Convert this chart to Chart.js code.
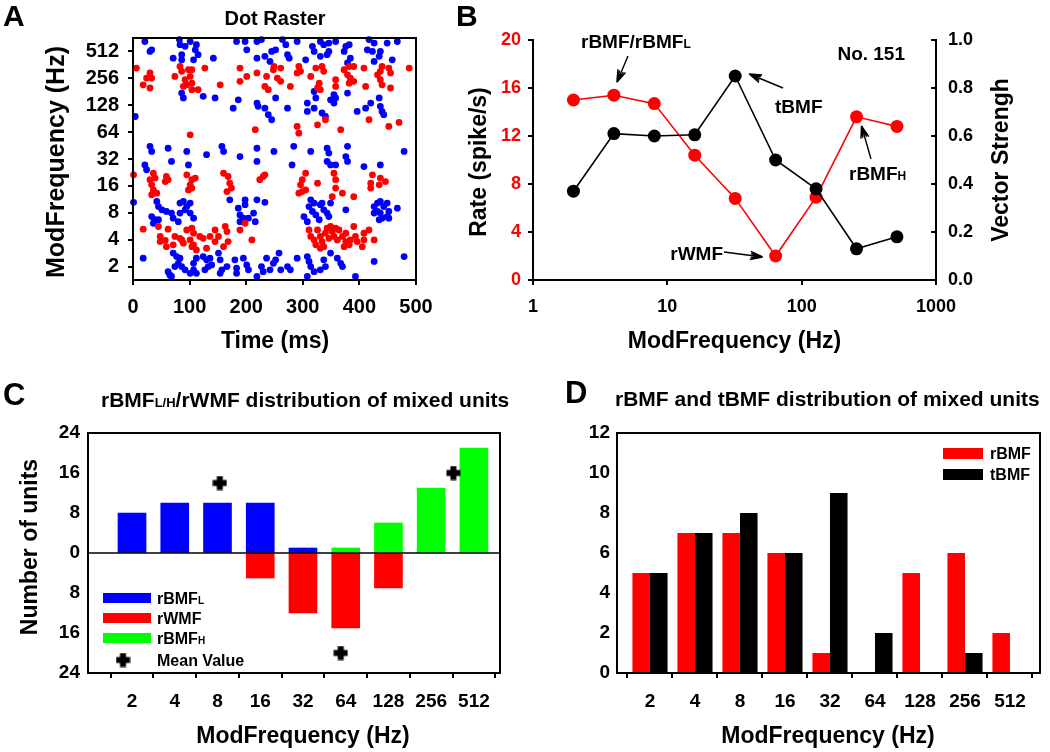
<!DOCTYPE html>
<html><head><meta charset="utf-8">
<script src="https://cdn.jsdelivr.net/npm/chart.js@4.4.1/dist/chart.umd.min.js"></script>
<style>
html,body{margin:0;padding:0;background:#fff;}
#wrap{position:relative;width:1050px;height:752px;overflow:hidden;background:#fff;}
canvas{position:absolute;left:0;top:0;}
</style></head><body>
<div id="wrap">
<canvas id="cA" width="1050" height="752"></canvas>
<canvas id="cB" width="1050" height="752"></canvas>
<canvas id="cC" width="1050" height="752"></canvas>
<canvas id="cD" width="1050" height="752"></canvas>
</div>
<script>
// ---------------- DATA ----------------
// Panel A: dot raster, [time (ms), modulation-frequency octave (log2 Hz)]
const rasterBlue = [
[21,9.37],[30,9.0],[33,9.06],[82,9.44],[83,9.25],[101,9.37],[92,9.19],[112,9.25],[110,9.06],[115,8.88],[107,8.69],[71,8.75],[86,8.69],[86,8.88],[142,8.75],[183,9.37],[198,9.37],[201,9.06],[219,9.37],[227,9.44],[219,8.75],[233,8.82],[245,9.0],[242,8.63],
[86,7.45],[89,7.27],[124,7.33],[145,7.27],[177,6.89],[186,7.2],[219,7.08],[221,6.96],[233,6.89],[239,6.65],[245,6.46],[4,6.58],
[30,5.47],[33,5.28],[62,5.4],[95,5.28],[68,4.91],[98,4.78],[130,5.16],[157,5.47],[160,5.28],[189,5.09],[219,5.4],[219,4.91],[21,4.78],[24,4.6],
[1,3.39],[42,3.42],[45,3.23],[51,3.11],[59,3.05],[68,2.99],[71,2.8],[83,3.36],[89,3.42],[95,3.23],[101,3.36],[92,3.11],[101,2.99],[107,2.8],[83,2.99],[80,2.67],[33,2.86],[39,2.74],[36,2.61],[45,2.74],[171,3.48],[198,3.48],[198,3.3],[186,3.17],[189,2.92],[195,2.8],[204,2.8],[216,2.67],[219,3.48],[233,3.39],[213,2.99],[189,2.67],
[18,1.31],[71,1.5],[77,1.37],[83,1.31],[80,1.12],[86,1.0],[74,1.0],[92,0.88],[107,1.12],[112,1.31],[101,0.75],[107,0.88],[124,1.37],[130,1.25],[136,1.31],[133,1.0],[127,0.88],[139,1.06],[151,1.5],[154,1.25],[157,0.88],[154,0.75],[166,1.0],[180,1.25],[183,0.94],[195,1.31],[201,1.06],[204,0.88],[183,0.75],[219,0.63],[227,1.0],[230,0.81],[236,1.31],[242,0.88],[248,1.12],[62,0.81],[65,0.69],[68,0.63],[112,0.75],
[252,9.06],[264,9.44],[270,9.25],[273,8.88],[276,8.75],[290,9.37],[305,8.69],[317,9.19],[320,9.0],[331,9.37],[337,9.25],[346,9.31],[346,9.0],[343,8.88],[331,8.82],[358,9.37],[376,9.19],[373,9.0],[382,9.25],[379,8.57],[384,8.75],[417,9.44],[426,9.31],[414,9.06],[423,9.0],[437,9.0],[435,8.82],[426,8.63],[449,9.31],[467,9.37],[458,8.69],
[252,7.27],[273,6.89],[308,7.08],[308,6.77],[320,7.51],[323,7.27],[320,6.89],[334,6.71],[340,6.58],[349,7.2],[355,7.39],[358,7.27],[355,7.08],[379,7.45],[396,6.77],[411,6.89],[420,7.08],[435,7.27],[437,6.96],[440,6.77],[443,6.65],
[249,5.28],[284,5.47],[281,4.78],[314,5.28],[343,5.4],[346,5.22],[343,4.91],[349,4.78],[358,4.78],[379,5.47],[376,5.09],[379,4.91],[408,4.72],[437,4.78],[479,5.28],
[314,3.48],[320,3.36],[311,3.23],[317,3.05],[323,2.92],[329,2.74],[331,3.3],[337,3.11],[334,3.36],[343,2.99],[349,3.36],[346,2.86],[302,2.86],[308,2.67],[376,3.11],[426,3.23],[432,3.36],[437,3.42],[443,3.23],[426,2.99],[432,3.05],[437,2.99],[449,3.36],[452,3.05],[449,2.86],[435,2.74],[440,2.8],[467,3.17],[452,2.8],
[258,1.5],[252,1.25],[261,0.88],[273,1.0],[278,0.88],[290,1.31],[308,1.37],[311,1.19],[314,1.0],[308,0.63],[320,0.81],[337,1.25],[340,1.0],[331,0.88],[349,1.5],[361,1.31],[367,1.12],[370,1.0],[393,0.63],[426,1.19],[479,1.37]
];
const rasterRed = [
[6,8.38],[30,8.2],[24,8.01],[33,8.01],[18,7.76],[30,7.64],[74,8.07],[83,8.44],[86,8.26],[98,8.32],[104,8.32],[101,8.07],[92,7.95],[95,7.76],[104,7.82],[104,7.58],[89,7.7],[115,7.58],[127,8.38],[154,7.76],[189,8.38],[201,8.07],[189,7.89],[219,8.2],[236,8.07],[233,7.7],[239,7.58],[248,8.32],[101,5.9],[216,6.09],
[1,4.41],[36,4.47],[39,4.29],[30,4.23],[33,4.04],[36,3.85],[33,3.67],[42,3.73],[59,4.35],[62,4.23],[57,4.16],[95,4.41],[104,4.23],[110,4.29],[101,4.04],[98,3.85],[104,3.92],[160,4.47],[168,4.35],[171,4.1],[174,3.92],[166,3.79],[224,4.23],[230,4.35],[233,4.41],
[18,2.39],[45,2.49],[62,2.39],[48,2.12],[48,1.93],[57,1.97],[59,1.74],[71,1.81],[74,2.12],[83,2.05],[86,1.99],[89,1.87],[95,2.36],[104,2.43],[107,2.24],[101,1.99],[104,1.74],[107,1.81],[112,1.62],[118,2.12],[124,2.05],[136,2.12],[130,1.68],[145,2.36],[151,2.12],[145,1.93],[163,2.49],[166,2.3],[168,1.93],[160,1.74],[189,2.36],[210,1.99],[198,2.61],
[249,8.44],[261,8.38],[255,8.01],[261,7.89],[278,7.7],[293,8.44],[296,8.26],[290,8.2],[314,8.07],[323,8.38],[334,8.44],[337,8.26],[329,7.82],[326,7.64],[331,7.58],[358,7.95],[358,7.7],[373,8.32],[382,8.44],[390,8.44],[379,8.13],[384,8.01],[390,7.89],[382,7.82],[408,8.38],[411,7.7],[432,8.13],[437,8.26],[440,8.44],[437,7.95],[440,7.76],[452,8.38],[455,8.2],[455,7.64],[488,8.38],
[326,6.27],[340,6.46],[290,6.21],[293,5.96],[367,6.09],[417,6.46],[452,6.21],[470,6.36],
[305,4.47],[299,4.23],[296,4.04],[299,3.79],[293,3.73],[305,3.85],[326,4.1],[355,4.47],[358,4.23],[358,3.92],[352,3.6],[370,3.73],[390,3.6],[423,4.41],[420,4.1],[420,3.92],[437,4.29],[446,4.16],[435,4.04],
[311,2.36],[314,2.12],[320,1.99],[323,1.81],[326,2.36],[331,2.12],[334,1.93],[337,1.74],[331,1.68],[340,2.24],[343,2.43],[349,2.49],[352,2.3],[355,2.12],[346,2.05],[358,2.43],[364,2.36],[361,1.99],[370,2.12],[376,2.24],[376,1.93],[382,1.81],[384,1.99],[390,2.49],[393,2.12],[396,1.93],[405,1.74],[408,1.99],[417,2.36],[426,1.99],[408,2.24],[373,1.74]
];
const rasterTimeTicks = [0,100,200,300,400,500];
const rasterOctTicks = [1,2,3,4,5,6,7,8,9];
const rasterFreqLabels = ['2','4','8','16','32','64','128','256','512'];

// Panel B: unit No. 151
const freqB = [2,4,8,16,32,64,128,256,512];
const rateB = [15.0,15.4,14.7,10.4,6.8,2.0,6.9,13.6,12.8];
const vsB   = [0.37,0.61,0.60,0.605,0.85,0.50,0.38,0.13,0.18];
const bXTicks = [1,10,100,1000];
const bXLabels = ['1','10','100','1000'];
const bRateTicks = [0,4,8,12,16,20];
const bVSTicks = [0,0.2,0.4,0.6,0.8,1.0];

// Panels C & D: categories
const modCats = ['2','4','8','16','32','64','128','256','512'];
const cBMFL = [8,10,10,10,1,null,null,null,null];
const cWMF  = [null,null,null,5,12,15,7,null,null];   // plotted downward
const cBMFH = [null,null,null,null,null,1,6,13,21];
const cMeanFreq = [8.3, 59, 367];
const cMeanPos  = [14, -20, 16];
const cYTicks = [-24,-16,-8,0,8,16,24];

const dRBMF = [5,7,7,6,1,0,5,6,2];
const dTBMF = [5,7,8,6,9,2,0,1,0];
const dYTicks = [0,2,4,6,8,10,12];

// ---------------- HELPERS ----------------
const FF = '"Liberation Sans", Arial, Helvetica, sans-serif';
Chart.defaults.font.family = FF;
Chart.defaults.font.weight = 'bold';
Chart.defaults.color = '#000';
const W = 1050, H = 752;
function font(s){ return 'bold ' + s + 'px ' + FF; }
function rich(ctx, parts, x, y, align, color){
  let w = 0;
  const ms = parts.map(p => { ctx.font = font(p[1]); const m = ctx.measureText(p[0]).width; w += m; return m; });
  let cx = align === 'center' ? x - w/2 : (align === 'right' ? x - w : x);
  ctx.save(); ctx.fillStyle = color || '#000'; ctx.textAlign = 'left'; ctx.textBaseline = 'alphabetic';
  parts.forEach((p,i) => { ctx.font = font(p[1]); ctx.fillText(p[0], cx, y); cx += ms[i]; });
  ctx.restore();
}
function vtext(ctx, s, cx, cy, size){
  ctx.save(); ctx.translate(cx, cy); ctx.rotate(-Math.PI/2);
  ctx.font = font(size); ctx.fillStyle = '#000'; ctx.textAlign = 'center'; ctx.textBaseline = 'middle';
  ctx.fillText(s, 0, 0); ctx.restore();
}
function htext(ctx, s, x, y, size, align){
  ctx.save(); ctx.font = font(size); ctx.fillStyle = '#000'; ctx.textAlign = align || 'center'; ctx.textBaseline = 'middle';
  ctx.fillText(s, x, y); ctx.restore();
}
function arrow(ctx, x1, y1, x2, y2){
  ctx.save(); ctx.strokeStyle = '#000'; ctx.lineWidth = 1.4; ctx.beginPath();
  ctx.moveTo(x1, y1); ctx.lineTo(x2, y2);
  const a = Math.atan2(y2 - y1, x2 - x1);
  [[0.32,13],[0.17,12]].forEach(([w,L]) => {
    [-1,1].forEach(s => { ctx.moveTo(x2, y2); ctx.lineTo(x2 - L*Math.cos(a + s*w), y2 - L*Math.sin(a + s*w)); });
  });
  ctx.stroke(); ctx.restore();
}
function boxStroke(chart){
  const a = chart.chartArea, ctx = chart.ctx;
  ctx.save(); ctx.strokeStyle = '#000'; ctx.lineWidth = 2;
  ctx.strokeRect(a.left, a.top, a.right - a.left, a.bottom - a.top); ctx.restore();
}
const crossImg = document.createElement('canvas');
crossImg.width = 15; crossImg.height = 15;
(function(){ const g = crossImg.getContext('2d'); g.fillStyle = '#000';
  g.fillRect(4.5,0.5,6,14); g.fillRect(0.5,4.5,14,6); })();

function setTicks(vals){ return s => { s.ticks = vals.map(v => ({value: v})); }; }
const tickGrid = {drawOnChartArea:false, drawTicks:true, tickLength:5, color:'#000', lineWidth:2};
const noGrid = {drawOnChartArea:false, drawTicks:false, color:'#000'};
const baseOpts = {responsive:false, animation:false, devicePixelRatio:1, events:[],
  plugins:{legend:{display:false}, tooltip:{enabled:false}, title:{display:false}}};

// ---------------- PANEL A ----------------
new Chart(document.getElementById('cA'), {
  type:'scatter',
  data:{datasets:[
    {data: rasterRed.map(p => ({x:p[0], y:p[1]})), backgroundColor:'#ff0000', pointRadius:3.4, borderWidth:0, clip:false},
    {data: rasterBlue.map(p => ({x:p[0], y:p[1]})), backgroundColor:'#0000ff', pointRadius:3.4, borderWidth:0, clip:false}
  ]},
  options: Object.assign({}, baseOpts, {
    layout:{padding:{left:0, right:W-416, top:38, bottom:0}},
    scales:{
      x:{type:'linear', min:0, max:500, afterBuildTicks:setTicks(rasterTimeTicks),
         ticks:{font:{size:20, weight:'bold'}, padding:10, maxRotation:0, color:'#000'},
         grid:tickGrid, border:{display:false}, afterFit:s => { s.height = H - 280; }},
      y:{type:'linear', min:0.5, max:9.5, afterBuildTicks:setTicks(rasterOctTicks),
         ticks:{font:{size:20, weight:'bold'}, padding:9, color:'#000', callback:(v,i) => rasterFreqLabels[i]},
         grid:tickGrid, border:{display:false}, afterFit:s => { s.width = 133; }}
    }
  }),
  plugins:[{id:'annA', afterDraw(chart){
    const ctx = chart.ctx; boxStroke(chart);
    htext(ctx, 'A', 3, 18, 30, 'left');
    htext(ctx, 'Dot Raster', 275, 19, 20);
    vtext(ctx, 'ModFrequency (Hz)', 57, 162, 25);
    htext(ctx, 'Time (ms)', 275, 342, 23);
  }}]
});

// ---------------- PANEL B ----------------
new Chart(document.getElementById('cB'), {
  type:'line',
  data:{datasets:[
    {data: freqB.map((f,i) => ({x:f, y:vsB[i]})), yAxisID:'y1', borderColor:'#000', backgroundColor:'#000',
     borderWidth:1.6, pointRadius:6.5, pointBorderWidth:0, tension:0},
    {data: freqB.map((f,i) => ({x:f, y:rateB[i]})), yAxisID:'y', borderColor:'#ff0000', backgroundColor:'#ff0000',
     borderWidth:1.6, pointRadius:6.5, pointBorderWidth:0, tension:0}
  ]},
  options: Object.assign({}, baseOpts, {
    layout:{padding:{left:0, right:0, top:40, bottom:0}},
    scales:{
      x:{type:'logarithmic', min:1, max:1000, afterBuildTicks:setTicks(bXTicks),
         ticks:{font:{size:18, weight:'bold'}, padding:11, maxRotation:0, autoSkip:false, color:'#000', callback:(v,i) => bXLabels[i]},
         grid:tickGrid, border:{color:'#000', width:2}, afterFit:s => { s.height = H - 280; }},
      y:{type:'linear', position:'left', min:0, max:20, afterBuildTicks:setTicks(bRateTicks),
         ticks:{font:{size:18, weight:'bold'}, padding:7, color:'#ff0000'},
         grid:tickGrid, border:{color:'#000', width:2}, afterFit:s => { s.width = 533; }},
      y1:{type:'linear', position:'right', min:0, max:1, afterBuildTicks:setTicks(bVSTicks),
         ticks:{font:{size:18, weight:'bold'}, padding:12, color:'#000', callback:v => v.toFixed(1)},
         grid:noGrid, border:{color:'#000', width:2}, afterFit:s => { s.width = W - 936; }}
    }
  }),
  plugins:[{id:'annB', afterDraw(chart){
    const ctx = chart.ctx, sx = chart.scales.x, sy = chart.scales.y, sv = chart.scales.y1;
    ctx.save(); ctx.strokeStyle = '#000'; ctx.lineWidth = 2; ctx.beginPath();
    bVSTicks.forEach(v => { const y = sv.getPixelForValue(v); ctx.moveTo(sv.left - 5, y); ctx.lineTo(sv.left, y); });
    ctx.stroke(); ctx.restore();
    htext(ctx, 'B', 456, 18, 30, 'left');
    vtext(ctx, 'Rate (spike/s)', 480, 162, 23);
    vtext(ctx, 'Vector Strengh', 1002, 160, 23);
    htext(ctx, 'ModFrequency (Hz)', (sx.left + sx.right)/2, 342, 23);
    const P = (i, arr, sc) => [sx.getPixelForValue(freqB[i]), sc.getPixelForValue(arr[i])];
    rich(ctx, [['rBMF/rBMF',19],['L',12]], 581, 48, 'left');
    let p = P(1, rateB, sy); arrow(ctx, 628, 56, p[0] + 3, p[1] - 13);
    rich(ctx, [['No. 151',19]], 905, 60, 'right');
    rich(ctx, [['tBMF',19]], 775, 113, 'left');
    p = P(4, vsB, sv); arrow(ctx, 783, 88, p[0] + 14, p[1] - 2);
    rich(ctx, [['rBMF',19],['H',12]], 849, 180, 'left');
    p = P(7, rateB, sy); arrow(ctx, 871, 159, p[0] + 5, p[1] + 9);
    rich(ctx, [['rWMF',19]], 723, 260, 'right');
    p = P(5, rateB, sy); arrow(ctx, 724, 252, p[0] - 13, p[1] + 1);
  }}]
});

// ---------------- PANEL C ----------------
const toPts = (arr, sign) => arr.map((v,i) => v === null ? null : {x:i, y:sign*v}).filter(p => p);
new Chart(document.getElementById('cC'), {
  type:'bar',
  data:{datasets:[
    {type:'scatter', data: cMeanFreq.map((f,i) => ({x:Math.log2(f) - 1, y:cMeanPos[i]})), pointStyle:crossImg, pointRadius:7, clip:false},
    {data: toPts(cBMFL, 1), backgroundColor:'#0000ff', grouped:false, barThickness:28},
    {data: toPts(cWMF, -1), backgroundColor:'#ff0000', grouped:false, barThickness:28},
    {data: toPts(cBMFH, 1), backgroundColor:'#00ff00', grouped:false, barThickness:28}
  ]},
  options: Object.assign({}, baseOpts, {
    layout:{padding:{left:0, right:W-500, top:433, bottom:0}},
    scales:{
      x:{type:'linear', min:-1.03, max:8.61, offset:false, afterBuildTicks:setTicks([0,1,2,3,4,5,6,7,8]),
         ticks:{font:{size:19, weight:'bold'}, padding:12, maxRotation:0, autoSkip:false, color:'#000', callback:(v,i) => modCats[i]},
         grid:tickGrid, border:{display:false}, afterFit:s => { s.height = H - 673; }},
      y:{type:'linear', min:-24, max:24, afterBuildTicks:setTicks(cYTicks),
         ticks:{font:{size:19, weight:'bold'}, padding:8, color:'#000', callback:v => String(Math.abs(v))},
         grid:noGrid, border:{display:false}, afterFit:s => { s.width = 88; }}
    }
  }),
  plugins:[{id:'annC', afterDatasetsDraw(chart){
    const ctx = chart.ctx, a = chart.chartArea, sy = chart.scales.y;
    const y0 = sy.getPixelForValue(0);
    ctx.save(); ctx.strokeStyle = '#000'; ctx.lineWidth = 1.5; ctx.beginPath();
    ctx.moveTo(a.left, y0); ctx.lineTo(a.right, y0); ctx.stroke(); ctx.restore();
  }, afterDraw(chart){
    const ctx = chart.ctx; boxStroke(chart);
    htext(ctx, 'C', 3, 396, 31, 'left');
    rich(ctx, [['rBMF',21],['L/H',13],['/rWMF distribution of mixed units',21]], 101, 407, 'left');
    vtext(ctx, 'Number of units', 31, 547, 23);
    htext(ctx, 'ModFrequency (Hz)', 303, 737, 23);
    const rows = [['#0000ff', [['rBMF',16],['L',10]], 598], ['#ff0000', [['rWMF',16]], 618], ['#00ff00', [['rBMF',16],['H',10]], 638]];
    rows.forEach(r => { ctx.fillStyle = r[0]; ctx.fillRect(103, r[2] - 5, 48, 10); rich(ctx, r[1], 157, r[2] + 6, 'left'); });
    ctx.drawImage(crossImg, 123 - 7.5, 660 - 7.5);
    rich(ctx, [['Mean Value',16]], 157, 666, 'left');
  }}]
});

// ---------------- PANEL D ----------------
new Chart(document.getElementById('cD'), {
  type:'bar',
  data:{datasets:[
    {data: dRBMF.map((v,i) => ({x:i, y:v})), backgroundColor:'#ff0000', categoryPercentage:0.78, barPercentage:1},
    {data: dTBMF.map((v,i) => ({x:i, y:v})), backgroundColor:'#000000', categoryPercentage:0.78, barPercentage:1}
  ]},
  options: Object.assign({}, baseOpts, {
    layout:{padding:{left:0, right:W-1040, top:433, bottom:0}},
    scales:{
      x:{type:'linear', min:-0.733, max:8.667, offset:false, afterBuildTicks:setTicks([0,1,2,3,4,5,6,7,8]),
         ticks:{font:{size:19, weight:'bold'}, padding:12, maxRotation:0, autoSkip:false, color:'#000', callback:(v,i) => modCats[i]},
         grid:tickGrid, border:{display:false}, afterFit:s => { s.height = H - 673; }},
      y:{type:'linear', min:0, max:12, afterBuildTicks:setTicks(dYTicks),
         ticks:{font:{size:19, weight:'bold'}, padding:7, color:'#000'},
         grid:noGrid, border:{display:false}, afterFit:s => { s.width = 617; }}
    }
  }),
  plugins:[{id:'annD', afterDraw(chart){
    const ctx = chart.ctx; boxStroke(chart);
    htext(ctx, 'D', 565, 394, 31, 'left');
    rich(ctx, [['rBMF and tBMF distribution of mixed units',21]], 615, 406, 'left');
    htext(ctx, 'ModFrequency (Hz)', 828, 737, 23);
    ctx.fillStyle = '#ff0000'; ctx.fillRect(943, 448, 40, 11);
    ctx.fillStyle = '#000000'; ctx.fillRect(943, 469, 40, 11);
    rich(ctx, [['rBMF',16]], 990, 459, 'left');
    rich(ctx, [['tBMF',16]], 990, 480, 'left');
  }}]
});
</script>
</body></html>
